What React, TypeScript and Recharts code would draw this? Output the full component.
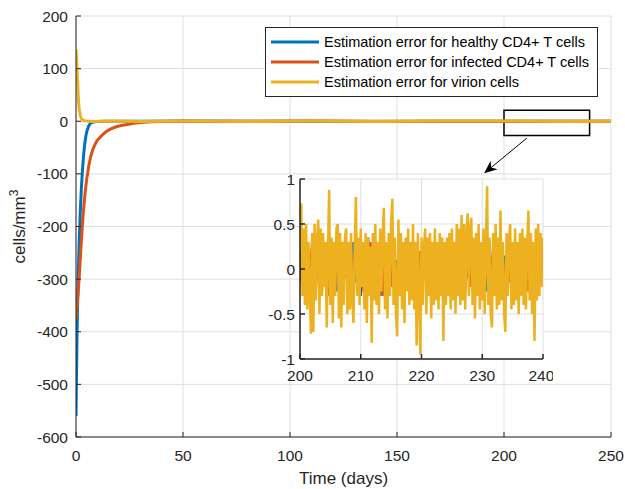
import React from 'react';
import { LineChart, Line, XAxis, YAxis, CartesianGrid, Legend, ReferenceArea, ReferenceLine } from 'recharts';

const SERIES_NAMES = [
  'Estimation error for healthy CD4+ T cells',
  'Estimation error for infected CD4+ T cells',
  'Estimation error for virion cells',
];
const COLORS = ['#0072BD', '#D95319', '#EDB120'];

const X_TICKS = [0, 50, 100, 150, 200, 250];
const Y_TICKS = [-600, -500, -400, -300, -200, -100, 0, 100, 200];
const INSET_X_TICKS = [200, 210, 220, 230, 240];
const INSET_Y_TICKS = [-1, -0.5, 0, 0.5, 1];

// Main plot: transients and settled tail (days, cells/mm^3)
const HEALTHY_T = [0, 0.5, 1, 1.5, 2, 2.5, 3, 3.5, 4, 4.5, 5, 6, 7, 8, 10, 15, 30, 50, 80, 110, 140, 170, 200, 230, 250];
const HEALTHY_V = [-560, -400, -300, -228, -172, -128, -94, -67, -46, -31, -20, -8, -3, -1.5, -0.5, 0.2, -0.1, 0.3, -0.2, 0.1, -0.3, 0.2, 0.1, -0.2, 0.1];

const INFECTED_T = [0, 0.5, 1, 1.5, 2, 2.5, 3, 3.5, 4, 4.5, 5, 6, 7, 8, 9, 10, 12, 14, 16, 18.5, 21, 24, 27, 30, 35, 40, 50, 80, 110, 140, 170, 200, 230, 250];
const INFECTED_V = [-375, -350, -325, -296, -262, -228, -196, -170, -147, -127, -110, -84, -65, -52, -43, -36, -27, -20, -15, -11, -8, -6, -4, -2.5, -1, -0.3, 0.2, -0.1, 0.3, -0.2, 0.1, -0.2, 0.2, 0];

const VIRION_T = [0, 0.25, 0.5, 0.75, 1, 1.25, 1.5, 2, 2.5, 3, 4, 5, 6, 8, 15, 30, 50, 80, 110, 140, 170, 200, 230, 250];
const VIRION_V = [137, 120, 100, 75, 50, 34, 23, 11, 5, 2.5, 1, 0.4, 0.2, -0.3, 0.4, -0.5, 0.6, -0.4, 0.5, -0.6, 0.3, 0.5, -0.4, 0.2];

// Inset: steady-state noise between day 200 and 240
const INSET_START = 200;
const VIRION_STEP = 0.2;
const VIRION_INSET = [
  0.2, 0.73, -0.3, 0.45, -0.4, 0.5, -0.45, 0.3, -0.25, -0.72,
  0.4, -0.7, 0.5, -0.35, 0.3, 0.55, -0.5, 0.45, -0.3, 0.4,
  -0.2, 0.3, -0.65, 0.2, 0.88, -0.4, 0.35, -0.6, 0.3, -0.3,
  0.45, 0.5, -0.55, 0.4, -0.65, 0.3, -0.4, 0.35, 0.45, -0.5,
  0.3, -0.45, 0.4, -0.35, -0.6, 0.25, 0.8, -0.3, 0.35, -0.4,
  0.45, -0.2, 0.3, -0.45, 0.4, -0.6, 0.35, -0.3, 0.25, -0.82,
  0.4, -0.35, 0.5, -0.4, 0.3, -0.5, 0.45, -0.25, 0.35, 0.68,
  -0.45, 0.3, -0.55, 0.4, -0.3, 0.5, 0.78, -0.4, 0.35, -0.5,
  -0.75, 0.55, -0.3, 0.4, -0.45, 0.3, -0.6, 0.35, -0.25, 0.45,
  -0.4, 0.3, -0.35, 0.5, -0.45, 0.3, -0.85, 0.4, -0.3, -0.95,
  0.35, -0.4, 0.25, 0.45, -0.5, 0.35, -0.3, 0.4, -0.55, 0.3,
  -0.4, 0.45, -0.35, 0.3, -0.45, 0.4, -0.3, 0.35, -0.8, 0.3,
  -0.4, 0.35, -0.3, 0.4, -0.45, 0.45, -0.35, 0.3, -0.5, 0.5,
  -0.3, 0.45, -0.4, 0.6, -0.35, 0.5, -0.45, 0.4, 0.62, -0.3,
  0.45, 0.57, -0.4, 0.35, -0.55, 0.4, -0.3, 0.5, -0.45, 0.3,
  -0.35, 0.45, -0.5, 0.3, 0.92, -0.4, 0.35, -0.5, -0.65, 0.4,
  -0.3, 0.5, -0.45, 0.35, -0.4, 0.65, -0.35, 0.3, -0.5, -0.7,
  0.4, -0.3, 0.35, 0.5, -0.45, 0.3, -0.4, 0.45, -0.35, 0.3,
  -0.5, 0.4, -0.3, 0.45, -0.4, 0.35, -0.45, 0.3, 0.65, -0.35,
  0.4, -0.5, 0.3, -0.8, 0.45, -0.35, 0.5, -0.3, 0.4, -0.2,
  0.35,
];
const CELL_STEP = 0.4;
const HEALTHY_INSET = [
  0.2, -0.15, 0.25, -0.2, 0.1, -0.3, 0.3, -0.1, 0.2, -0.25,
  0.15, -0.2, 0.3, -0.15, 0.1, -0.25, 0.2, -0.3, 0.15, -0.1,
  0.25, -0.2, 0.3, -0.15, 0.2, -0.3, 0.1, -0.2, 0.35, -0.15,
  0.2, -0.25, 0.15, -0.3, 0.25, -0.1, 0.2, -0.2, 0.3, -0.15,
  0.1, -0.25, 0.25, -0.3, 0.2, -0.15, 0.15, -0.2, 0.3, -0.25,
  0.2, -0.1, 0.25, -0.3, 0.15, -0.2, 0.2, -0.25, 0.3, -0.15,
  0.1, -0.3, 0.25, -0.2, 0.2, -0.15, 0.3, -0.25, 0.15, -0.1,
  0.3, -0.2, 0.2, -0.3, 0.25, -0.15, 0.1, -0.25, 0.3, -0.2,
  0.2, -0.15, 0.25, -0.3, 0.15, -0.2, 0.3, -0.1, 0.2, -0.25,
  0.15, -0.3, 0.25, -0.2, 0.1, -0.15, 0.3, -0.25, 0.2, -0.1,
  0.2,
];
const INFECTED_INSET = [
  -0.15, 0.25, -0.3, 0.2, -0.1, 0.3, -0.2, 0.15, -0.25, 0.3,
  -0.15, 0.2, -0.3, 0.1, -0.2, 0.3, -0.25, 0.15, -0.1, 0.25,
  -0.3, 0.2, -0.15, 0.3, -0.2, 0.1, -0.25, 0.2, -0.15, 0.3,
  -0.2, 0.25, -0.1, 0.2, -0.3, 0.15, -0.25, 0.3, -0.2, 0.1,
  -0.15, 0.25, -0.3, 0.2, -0.1, 0.3, -0.2, 0.15, -0.25, 0.2,
  -0.3, 0.25, -0.15, 0.1, -0.2, 0.3, -0.25, 0.2, -0.1, 0.15,
  -0.3, 0.2, -0.2, 0.25, -0.15, 0.3, -0.1, 0.2, -0.25, 0.15,
  -0.2, 0.3, -0.3, 0.1, -0.15, 0.25, -0.2, 0.2, -0.3, 0.15,
  -0.1, 0.25, -0.25, 0.3, -0.2, 0.1, -0.15, 0.2, -0.3, 0.25,
  -0.2, 0.15, -0.1, 0.3, -0.25, 0.2, -0.15, 0.1, -0.3, 0.2,
  -0.2,
];

// Zoom box and arrow annotation (data units)
const ZOOM_BOX = { x1: 200, x2: 240, y1: -27, y2: 21 };
const ARROW = [{ x: 210.7, y: -32 }, { x: 190.7, y: -99 }];

const zip = (ts: number[], vs: number[]) => ts.map((t, i) => ({ t, v: vs[i] }));
const grid = (vs: number[], step: number) =>
  vs.map((v, i) => ({ t: Math.round((INSET_START + i * step) * 100) / 100, v }));

const mainData = [zip(HEALTHY_T, HEALTHY_V), zip(INFECTED_T, INFECTED_V), zip(VIRION_T, VIRION_V)];
const insetData = [grid(HEALTHY_INSET, CELL_STEP), grid(INFECTED_INSET, CELL_STEP), grid(VIRION_INSET, VIRION_STEP)];

const FONT = '"Liberation Sans", Arial, Helvetica, sans-serif';
const AXIS = '#262626';
const GRID = '#dfdfdf';
const TICK_FS = 15.5;

const ArrowShape = (p: any) => {
  const { x1, y1, x2, y2 } = p;
  const dx = x2 - x1;
  const dy = y2 - y1;
  const len = Math.hypot(dx, dy) || 1;
  const ux = dx / len;
  const uy = dy / len;
  const hl = 13;
  const hw = 5.5;
  const bx = x2 - ux * hl;
  const by = y2 - uy * hl;
  const nx = x2 - ux * hl * 0.7;
  const ny = y2 - uy * hl * 0.7;
  const pts = `${x2},${y2} ${bx - uy * hw},${by + ux * hw} ${nx},${ny} ${bx + uy * hw},${by - ux * hw}`;
  return (
    <g>
      <line x1={x1} y1={y1} x2={nx} y2={ny} stroke="#000" strokeWidth={1} />
      <polygon points={pts} fill="#000" />
    </g>
  );
};

const LegendBox = (props: any) => {
  const payload = props.payload || [];
  return (
    <div
      style={{
        width: 331,
        height: 64,
        border: '1px solid #262626',
        background: '#fff',
        fontFamily: FONT,
        fontSize: 14.5,
        color: '#000',
        boxSizing: 'content-box',
        paddingTop: 4,
      }}
    >
      {SERIES_NAMES.map((name, i) => (
        <div key={name} style={{ display: 'flex', alignItems: 'center', height: 20, whiteSpace: 'nowrap' }}>
          <svg width={58} height={20} style={{ flex: 'none' }}>
            <line x1={5} y1={10} x2={53} y2={10} stroke={(payload[i] && payload[i].color) || COLORS[i]} strokeWidth={3} />
          </svg>
          <span>{name}</span>
        </div>
      ))}
    </div>
  );
};

const YLabel = () => (
  <text x={25} y={226.5} transform="rotate(-90, 25, 226.5)" textAnchor="middle" fill="#262626" fontSize={17} fontFamily={FONT}>
    cells/mm<tspan dy={-7} fontSize={12}>3</tspan>
  </text>
);

export default function App() {
  return (
    <div style={{ position: 'absolute', left: 0, top: 0, width: 625, height: 489, background: '#fff', fontFamily: FONT, overflow: 'hidden' }}>
      <div style={{ position: 'absolute', left: 0, top: 0 }}>
        <LineChart width={625} height={489} margin={{ top: 16, right: 14, left: 0, bottom: 0 }}>
          <CartesianGrid stroke={GRID} strokeWidth={1} />
          <XAxis
            type="number"
            dataKey="t"
            domain={[0, 250]}
            ticks={X_TICKS}
            allowDataOverflow
            height={52}
            tickSize={-5}
            tickMargin={18}
            stroke={AXIS}
            tick={{ fill: '#262626', fontSize: TICK_FS }}
            label={{ value: 'Time (days)', position: 'insideBottom', offset: 5, fill: '#262626', fontSize: 17 }}
          />
          <XAxis xAxisId="top" orientation="top" type="number" domain={[0, 250]} ticks={X_TICKS} height={0} tickSize={-5} tick={false} stroke={AXIS} />
          <YAxis
            type="number"
            domain={[-600, 200]}
            ticks={Y_TICKS}
            allowDataOverflow
            width={76}
            tickSize={-5}
            tickMargin={13}
            stroke={AXIS}
            tick={{ fill: '#262626', fontSize: TICK_FS }}
            label={{ content: () => <YLabel /> }}
          />
          <YAxis yAxisId="right" orientation="right" type="number" domain={[-600, 200]} ticks={Y_TICKS} width={0} tickSize={-5} tick={false} stroke={AXIS} />
          {mainData.map((d, i) => (
            <Line
              key={SERIES_NAMES[i]}
              data={d}
              dataKey="v"
              name={SERIES_NAMES[i]}
              stroke={COLORS[i]}
              strokeWidth={3}
              dot={false}
              activeDot={false}
              type="linear"
              isAnimationActive={false}
            />
          ))}
          <ReferenceArea x1={ZOOM_BOX.x1} x2={ZOOM_BOX.x2} y1={ZOOM_BOX.y1} y2={ZOOM_BOX.y2} fill="none" fillOpacity={0} stroke="#000" strokeWidth={1.5} />
          <ReferenceLine segment={ARROW} shape={ArrowShape} />
          <Legend
            layout="vertical"
            align="center"
            verticalAlign="middle"
            content={LegendBox}
            wrapperStyle={{ left: 265, top: 27, width: 333, height: 68 }}
          />
        </LineChart>
      </div>
      <div style={{ position: 'absolute', left: 240, top: 169 }}>
        <LineChart width={313} height={220} margin={{ top: 10, right: 10, left: 0, bottom: 0 }}>
          <CartesianGrid stroke={GRID} strokeWidth={1} fill="#fff" fillOpacity={1} />
          <XAxis
            type="number"
            dataKey="t"
            domain={[200, 240]}
            ticks={INSET_X_TICKS}
            allowDataOverflow
            height={30}
            tickSize={-5}
            tickMargin={15.5}
            stroke={AXIS}
            strokeWidth={1.5}
            tick={{ fill: '#262626', fontSize: TICK_FS }}
          />
          <XAxis xAxisId="top" orientation="top" type="number" domain={[200, 240]} ticks={INSET_X_TICKS} height={0} tickSize={-5} tick={false} stroke={AXIS} strokeWidth={1.5} />
          <YAxis
            type="number"
            domain={[-1, 1]}
            ticks={INSET_Y_TICKS}
            allowDataOverflow
            width={60}
            tickSize={-5}
            tickMargin={10}
            stroke={AXIS}
            strokeWidth={1.5}
            tick={{ fill: '#262626', fontSize: TICK_FS }}
          />
          <YAxis yAxisId="right" orientation="right" type="number" domain={[-1, 1]} ticks={INSET_Y_TICKS} width={0} tickSize={-5} tick={false} stroke={AXIS} strokeWidth={1.5} />
          {insetData.map((d, i) => (
            <Line
              key={SERIES_NAMES[i]}
              data={d}
              dataKey="v"
              name={SERIES_NAMES[i]}
              stroke={COLORS[i]}
              strokeWidth={2.5}
              dot={false}
              activeDot={false}
              type="linear"
              isAnimationActive={false}
            />
          ))}
        </LineChart>
      </div>
    </div>
  );
}
